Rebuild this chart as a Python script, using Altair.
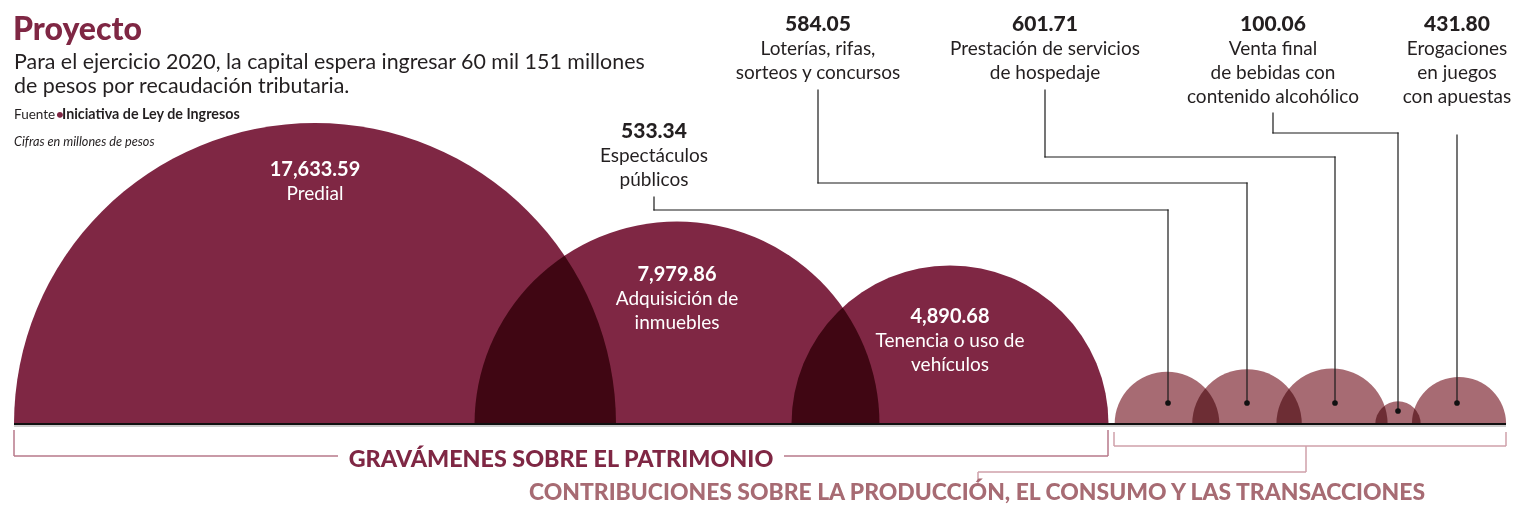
import math
import altair as alt
import pandas as pd

# ---------------- data ----------------
categorias = [
    "Predial",
    "Adquisición de inmuebles",
    "Tenencia o uso de vehículos",
    "Espectáculos públicos",
    "Loterías, rifas, sorteos y concursos",
    "Prestación de servicios de hospedaje",
    "Venta final de bebidas con contenido alcohólico",
    "Erogaciones en juegos con apuestas",
]
valores = [17633.59, 7979.86, 4890.68, 533.34, 584.05, 601.71, 100.06, 431.80]
grupos = ["patrimonio"] * 3 + ["produccion"] * 5
lineas_etiqueta = [
    ["Predial"],
    ["Adquisición de", "inmuebles"],
    ["Tenencia o uso de", "vehículos"],
    ["Espectáculos", "públicos"],
    ["Loterías, rifas,", "sorteos y concursos"],
    ["Prestación de servicios", "de hospedaje"],
    ["Venta final", "de bebidas con", "contenido alcohólico"],
    ["Erogaciones", "en juegos", "con apuestas"],
]
titulo = "Proyecto"
subtitulo = [
    "Para el ejercicio 2020, la capital espera ingresar 60 mil 151 millones",
    "de pesos por recaudación tributaria.",
]
fuente_pre = "Fuente"
fuente_txt = "Iniciativa de Ley de Ingresos"
nota = "Cifras en millones de pesos"
nombres_grupo = [
    "GRAVÁMENES SOBRE EL PATRIMONIO",
    "CONTRIBUCIONES SOBRE LA PRODUCCIÓN, EL CONSUMO Y LAS TRANSACCIONES",
]

# ---------------- layout (page pixels) ----------------
W, H = 1510, 497
BASE = 424
R_MAX = 301
LINE = 24
centro_x = [315, 677, 950, 1167, 1247, 1332, 1398, 1459]
etq_x = [315, 677, 950, 654, 818, 1045, 1273, 1457]
etq_y = [176, 281, 323, 138, 31, 31, 31, 31]
dentro = [True, True, True, False, False, False, False, False]
guias = {
    3: [(654, 197), (654, 210), (1168, 210), (1168, 403)],
    4: [(818, 90), (818, 183), (1247, 183), (1247, 403)],
    5: [(1045, 90), (1045, 157), (1335, 157), (1335, 403)],
    6: [(1273, 113), (1273, 133), (1398, 133), (1398, 411)],
    7: [(1457, 135), (1457, 403)],
}

MAROON = "#7f2744"
ROSE = "#a76b73"
INK = "#231f20"
FONT = "Lato"

xs = alt.Scale(domain=[8, 8 + W], zero=False, nice=False)
ys = alt.Scale(domain=[8, 8 + H], zero=False, nice=False, reverse=True)


def X(f):
    return alt.X(f, type="quantitative", scale=xs, axis=None)


def Y(f):
    return alt.Y(f, type="quantitative", scale=ys, axis=None)


# ---------------- semicircles ----------------
arcos = pd.DataFrame({
    "categoria": categorias,
    "valor": valores,
    "grupo": grupos,
    "cx": centro_x,
    "cy": [BASE] * len(valores),
})
capa_arcos = alt.Chart(arcos).mark_arc(
    theta=3 * math.pi / 2, theta2=5 * math.pi / 2, blend="multiply"
).encode(
    x=X("cx"),
    y=Y("cy"),
    radius=alt.Radius(
        "valor:Q", stack=False,
        scale=alt.Scale(type="sqrt", domain=[0, max(valores)], range=[0, R_MAX]),
    ),
    color=alt.Color("grupo:N", scale=alt.Scale(domain=["patrimonio", "produccion"], range=[MAROON, ROSE]), legend=None),
)

# ---------------- rules ----------------
def segs(points):
    out = []
    for (a, b) in zip(points[:-1], points[1:]):
        out.append({"x": a[0], "y": a[1], "x2": b[0], "y2": b[1]})
    return out


def rule_layer(rows, color, width, cap="butt"):
    df = pd.DataFrame(rows)
    return alt.Chart(df).mark_rule(color=color, strokeWidth=width, strokeCap=cap).encode(
        x=X("x"), y=Y("y"), x2="x2:Q", y2="y2:Q"
    )


guia_rows = []
puntos = []
for i, pts in guias.items():
    guia_rows += segs(pts)
    puntos.append({"x": pts[-1][0], "y": pts[-1][1]})

capa_guias = rule_layer(guia_rows, "#1a1a1a", 1.2, "square")
capa_puntos = alt.Chart(pd.DataFrame(puntos)).mark_circle(color="#111111", opacity=1, size=32).encode(
    x=X("x"), y=Y("y")
)

capa_base = rule_layer([{"x": 14, "y": BASE, "x2": 1506, "y2": BASE}], "#111111", 2)
capa_sombra = rule_layer([{"x": 14, "y": BASE + 2, "x2": 1506, "y2": BASE + 2}], "#9a9a9a", 1.2)

brk1 = rule_layer(
    segs([(14, 430), (14, 456), (338, 456)]) + segs([(784, 456), (1108, 456), (1108, 430)]),
    "#b7798a", 1.5,
)
brk2 = rule_layer(
    segs([(1114, 432), (1114, 446), (1506, 446), (1506, 432)])
    + segs([(1306, 446), (1306, 472), (978, 472), (978, 483)]),
    "#cfa1aa", 1.5,
)

# ---------------- texts ----------------
def text_layer(rows, size, weight="normal", color=INK, align="center", style="normal"):
    df = pd.DataFrame(rows)
    return alt.Chart(df).mark_text(
        font=FONT, fontSize=size, fontWeight=weight, color=color, align=align,
        baseline="alphabetic", fontStyle=style,
    ).encode(x=X("x"), y=Y("y"), text="t:N")


val_in, val_out, lab_in, lab_out = [], [], [], []
for i, v in enumerate(valores):
    vt = f"{v:,.2f}"
    (val_in if dentro[i] else val_out).append({"x": etq_x[i], "y": etq_y[i], "t": vt})
    for k, ln in enumerate(lineas_etiqueta[i]):
        (lab_in if dentro[i] else lab_out).append({"x": etq_x[i], "y": etq_y[i] + LINE * (k + 1), "t": ln})

capas_texto = [
    text_layer(val_in, 20, "bold", "white"),
    text_layer(lab_in, 19, "normal", "white"),
    text_layer(val_out, 21, 900, INK),
    text_layer(lab_out, 19, "normal", INK),
    text_layer([{"x": 13, "y": 40, "t": titulo}], 32, 900, MAROON, "left"),
    text_layer([{"x": 14, "y": 69, "t": subtitulo[0]}, {"x": 14, "y": 93, "t": subtitulo[1]}], 21.4, "normal", INK, "left"),
    text_layer([{"x": 14, "y": 119, "t": fuente_pre}], 13.5, "normal", INK, "left"),
    text_layer([{"x": 56, "y": 119, "t": "•"}], 13.5, "bold", MAROON, "left"),
    text_layer([{"x": 62, "y": 119, "t": fuente_txt}], 14.3, "bold", INK, "left"),
    text_layer([{"x": 14, "y": 146, "t": nota}], 12.7, "normal", INK, "left", "italic"),
    text_layer([{"x": 561, "y": 467, "t": nombres_grupo[0]}], 23.3, 900, MAROON),
    text_layer([{"x": 977, "y": 500, "t": nombres_grupo[1]}], 22.9, 900, ROSE),
]

chart = alt.layer(
    capa_arcos, capa_base, capa_sombra, brk1, brk2, capa_guias, capa_puntos, *capas_texto
).properties(
    width=W, height=H, padding=0, autosize=alt.AutoSizeParams(type="none"), background="white"
).configure_view(stroke=None)

chart.save("out.html", embed_options={"renderer": "svg", "actions": False})
